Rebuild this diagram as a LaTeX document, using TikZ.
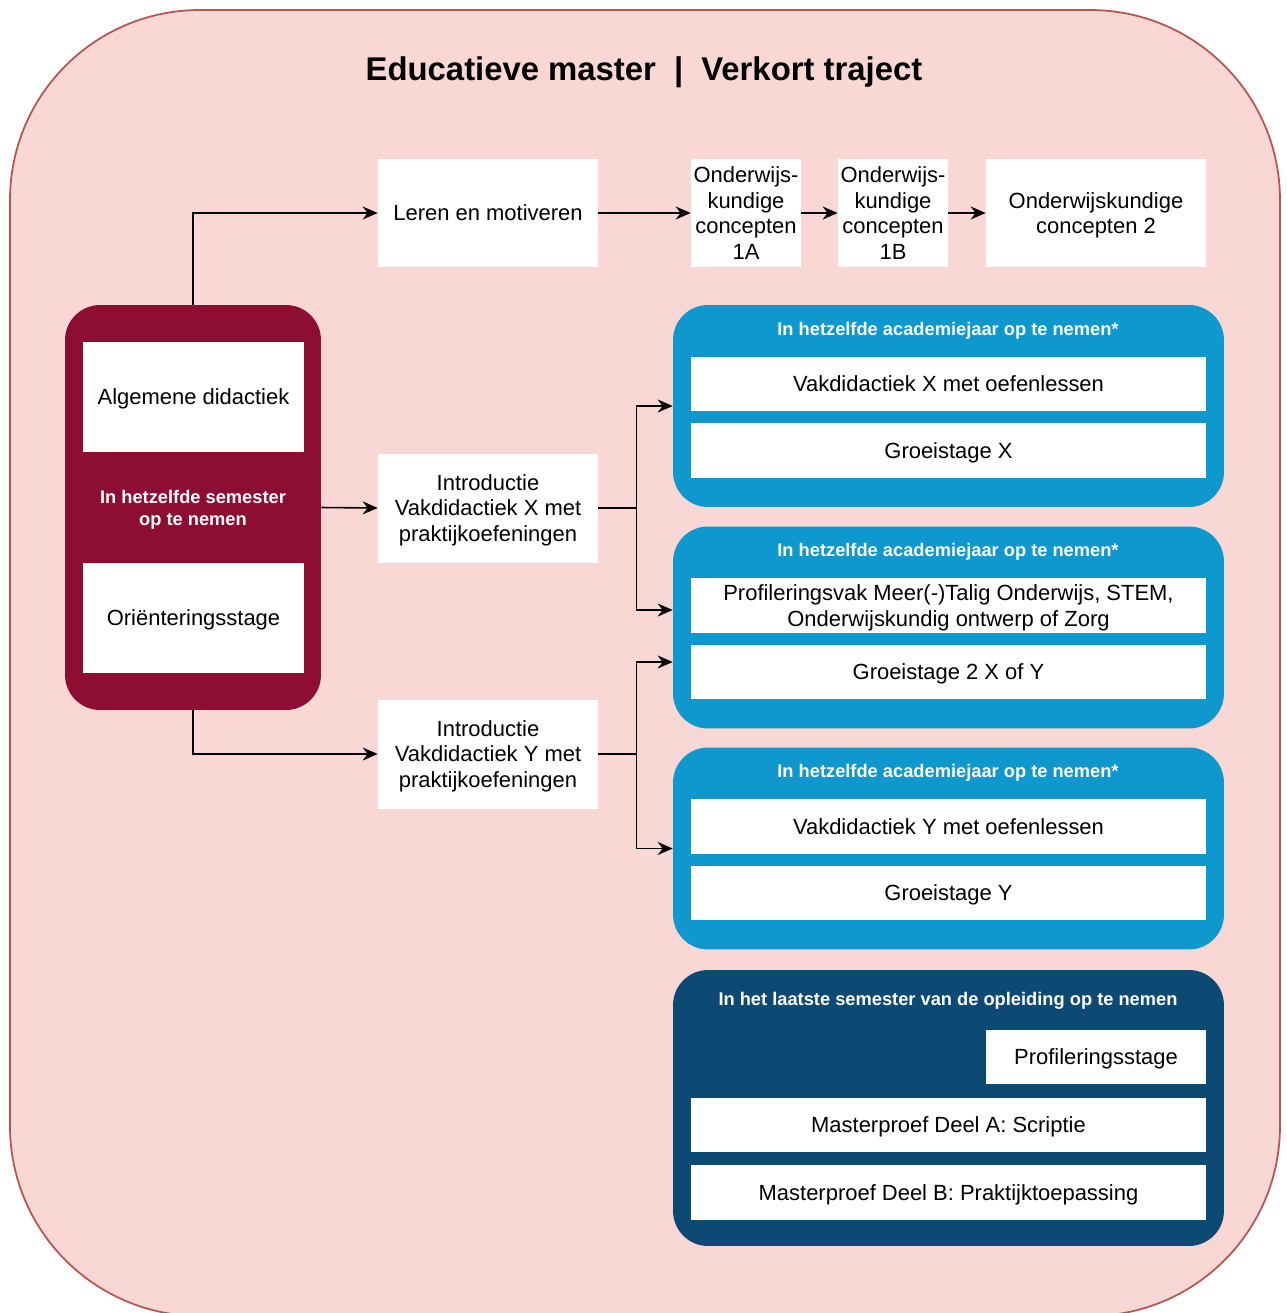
\documentclass[tikz,border=0pt]{standalone}
\usepackage{fontspec}
\setmainfont{Liberation Sans}
\usetikzlibrary{arrows.meta,positioning,calc}
\definecolor{bgpink}{HTML}{F8D7D4}
\definecolor{bgline}{HTML}{B85450}
\definecolor{maroon}{HTML}{8D0D33}
\definecolor{skyblue}{HTML}{0E98CD}
\definecolor{navy}{HTML}{0C4A74}

\begin{document}
\begin{tikzpicture}[x=0.02cm,y=-0.02cm]
  %--------------------------------------------
  % Styles
  %--------------------------------------------
  \tikzset{
    outer/.style={draw=bgline, line width=1pt, fill=bgpink, rounded corners=3.8cm},
    course/.style={fill=white, align=center, inner sep=0pt, text depth=0pt,
      font=\fontsize{12.5}{14.7}\selectfont, minimum width=4.4cm, minimum height=2.18cm},
    narrow/.style={course, minimum width=2.2cm},
    wide/.style={course, minimum width=10.3cm, minimum height=1.09cm},
    group/.style={rounded corners=0.7cm, inner sep=0pt},
    grouphead/.style={text=white, align=center, text depth=0pt,
      font=\bfseries\fontsize{10.4}{12.5}\selectfont},
    flow/.style={-{Stealth[length=3mm,width=2.6mm]}, line width=0.9pt},
    line/.style={line width=0.9pt}
  }

  %--------------------------------------------
  % Canvas
  %--------------------------------------------
  \useasboundingbox (0,0) rectangle (1287,1313);
  \clip (0,0) rectangle (1287,1313);
  \draw[outer] (10,10) rectangle (1280,1316);

  \node[font=\bfseries\fontsize{18.7}{22}\selectfont, text depth=0pt] (title) at (644,69)
    {Educatieve master\hspace{0.55em}|\hspace{0.55em}Verkort traject};

  %--------------------------------------------
  % Top row
  %--------------------------------------------
  \node[course] (lm) at (488,213) {Leren en motiveren};
  \node[narrow] (c1a) at (746,213) {Onderwijs-\\kundige\\concepten\\1A};
  \node[narrow] (c1b) at (893,213) {Onderwijs-\\kundige\\concepten\\1B};
  \node[course] (c2) at (1096,213) {Onderwijskundige\\concepten 2};

  %--------------------------------------------
  % Left group: same semester
  %--------------------------------------------
  \node[group, fill=maroon, minimum width=5.12cm, minimum height=8.1cm] (sem) at (193,507.5) {};
  \node[course, minimum width=4.42cm, minimum height=2.2cm] (alg) at (193.5,397) {Algemene didactiek};
  \node[grouphead] (semhead) at (193,508) {In hetzelfde semester\\op te nemen};
  \node[course, minimum width=4.42cm, minimum height=2.2cm] (ori) at (193.5,618) {Oriënteringsstage};

  %--------------------------------------------
  % Introduction courses
  %--------------------------------------------
  \node[course] (introX) at (488,508) {Introductie\\Vakdidactiek X met\\praktijkoefeningen};
  \node[course] (introY) at (488,754) {Introductie\\Vakdidactiek Y met\\praktijkoefeningen};

  %--------------------------------------------
  % Right groups: same academic year
  %--------------------------------------------
  \node[group, fill=skyblue, minimum width=11.02cm, minimum height=4.04cm] (yearX) at (948.5,406) {};
  \node[grouphead] (yearXhead) at (948,329) {In hetzelfde academiejaar op te nemen*};
  \node[wide] (vakX) at (948.5,384) {Vakdidactiek X met oefenlessen};
  \node[wide] (groeiX) at (948.5,450.5) {Groeistage X};

  \node[group, fill=skyblue, minimum width=11.02cm, minimum height=4.04cm] (yearP) at (948.5,627.5) {};
  \node[grouphead] (yearPhead) at (948,550) {In hetzelfde academiejaar op te nemen*};
  \node[wide] (profvak) at (948.5,605.5) {Profileringsvak Meer(-)Talig Onderwijs, STEM,\\Onderwijskundig ontwerp of Zorg};
  \node[wide] (groei2) at (948.5,672) {Groeistage 2 X of Y};

  \node[group, fill=skyblue, minimum width=11.02cm, minimum height=4.04cm] (yearY) at (948.5,848.5) {};
  \node[grouphead] (yearYhead) at (948,771) {In hetzelfde academiejaar op te nemen*};
  \node[wide] (vakY) at (948.5,826.5) {Vakdidactiek Y met oefenlessen};
  \node[wide] (groeiY) at (948.5,893) {Groeistage Y};

  %--------------------------------------------
  % Last semester
  %--------------------------------------------
  \node[group, fill=navy, minimum width=11.02cm, minimum height=5.52cm] (last) at (948.5,1108) {};
  \node[grouphead] (lasthead) at (948,999) {In het laatste semester van de opleiding op te nemen};
  \node[course, minimum height=1.09cm] (pstage) at (1096,1057) {Profileringsstage};
  \node[wide] (mpA) at (948.5,1125) {Masterproef Deel A: Scriptie};
  \node[wide] (mpB) at (948.5,1192.5) {Masterproef Deel B: Praktijktoepassing};

  %--------------------------------------------
  % Connectors
  %--------------------------------------------
  \draw[flow] (lm) -- (c1a);
  \draw[flow] (c1a) -- (c1b);
  \draw[flow] (c1b) -- (c2);
  \draw[flow] (sem.north) |- (lm.west);
  \draw[flow] (sem.east) -- (introX.west);
  \draw[flow] (sem.south) |- (introY.west);

  \draw[line] (introX.east) -- ++(38,0) coordinate (splitX);
  \draw[flow] (splitX) |- (yearX.west);
  \draw[flow] (splitX) |- ($(yearP.west)+(0,-17.5)$);

  \draw[line] (introY.east) -- ++(38,0) coordinate (splitY);
  \draw[flow] (splitY) |- ($(yearP.west)+(0,34.5)$);
  \draw[flow] (splitY) |- (yearY.west);
\end{tikzpicture}
\end{document}
